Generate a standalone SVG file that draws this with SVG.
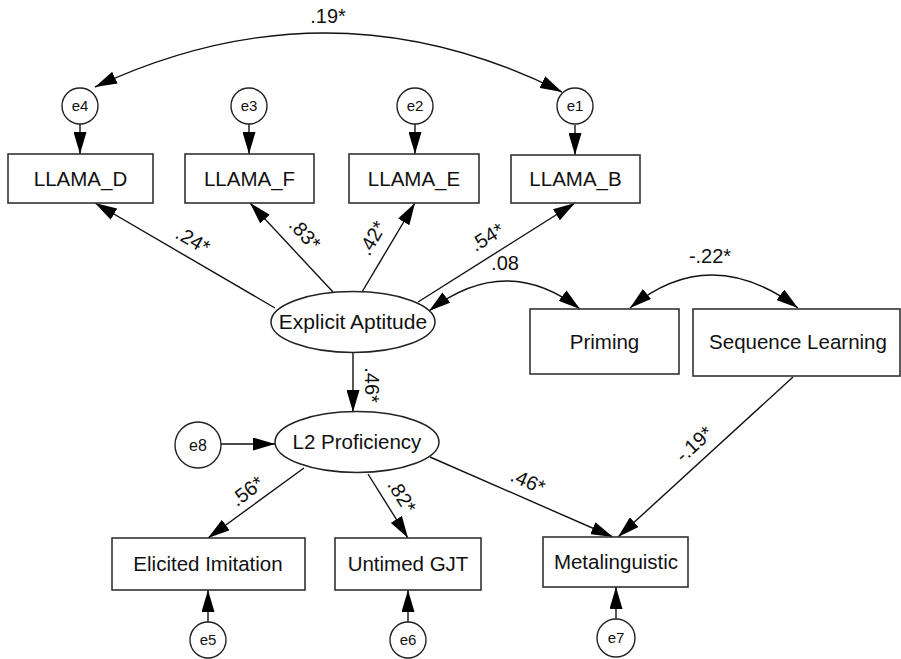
<svg xmlns="http://www.w3.org/2000/svg" width="901" height="659" viewBox="0 0 901 659">
<defs>
<marker id="ah" markerUnits="userSpaceOnUse" markerWidth="22" markerHeight="13" refX="22" refY="6.5" orient="auto-start-reverse">
<path d="M0,0 L22,6.5 L0,13 z" fill="#000"/>
</marker>
</defs>
<style>
.box{fill:#fff;stroke:#333;stroke-width:1.6}
.lat{fill:#fff;stroke:#222;stroke-width:1.5}
.err{fill:#fff;stroke:#222;stroke-width:1.4}
.lbl{font-family:"Liberation Sans",Arial,Helvetica,sans-serif;font-size:20.5px;fill:#111;text-anchor:middle}
.elbl{font-family:"Liberation Sans",Arial,Helvetica,sans-serif;font-size:15px;fill:#111;text-anchor:middle}
.coef{font-family:"Liberation Sans",Arial,Helvetica,sans-serif;font-size:20px;fill:#111;text-anchor:middle}
.ln{fill:none;stroke:#111;stroke-width:1.4;marker-end:url(#ah)}
.cv{fill:none;stroke:#111;stroke-width:1.4;marker-start:url(#ah);marker-end:url(#ah)}
</style>
<rect width="901" height="659" fill="#fff"/>

<g id="connectors">
<path class="cv" d="M95,87 Q331.5,-23.5 562,92"/>
<path class="cv" d="M429,311 Q505.5,252 580,309"/>
<path class="cv" d="M630,308 Q710,242 798,308"/>
<line class="ln" x1="80" y1="124" x2="80" y2="154"/>
<line class="ln" x1="249" y1="124" x2="249" y2="154"/>
<line class="ln" x1="415" y1="124" x2="415" y2="154"/>
<line class="ln" x1="575" y1="125" x2="575" y2="155"/>
<line class="ln" x1="275" y1="308" x2="95" y2="203"/>
<line class="ln" x1="333" y1="292" x2="250" y2="203"/>
<line class="ln" x1="362" y1="292" x2="415" y2="203"/>
<line class="ln" x1="418" y1="302" x2="575" y2="203"/>
<line class="ln" x1="353" y1="353" x2="353" y2="412"/>
<line class="ln" x1="221" y1="444" x2="275" y2="444"/>
<line class="ln" x1="304" y1="468" x2="208" y2="538"/>
<line class="ln" x1="368" y1="474" x2="408" y2="538"/>
<line class="ln" x1="430" y1="457" x2="613" y2="537"/>
<line class="ln" x1="793" y1="377" x2="618" y2="537"/>
<line class="ln" x1="208" y1="622" x2="208" y2="590"/>
<line class="ln" x1="408" y1="622" x2="408" y2="590"/>
<line class="ln" x1="616" y1="619" x2="616" y2="587"/>
</g>

<g id="coefficients">
<text class="coef" x="328" y="23">.19*</text>
<text class="coef" x="505" y="270">.08</text>
<text class="coef" x="710" y="263">-.22*</text>
<text class="coef" x="193" y="240" dy="0.35em" transform="rotate(30 193 240)">.24*</text>
<text class="coef" x="305" y="234" dy="0.35em" transform="rotate(47 305 234)">.83*</text>
<text class="coef" x="372" y="238" dy="0.35em" transform="rotate(-60 372 238)">.42*</text>
<text class="coef" x="487" y="237" dy="0.35em" transform="rotate(-32 487 237)">.54*</text>
<text class="coef" x="372" y="385" dy="0.35em" transform="rotate(90 372 385)">.46*</text>
<text class="coef" x="247" y="491" dy="0.35em" transform="rotate(-37 247 491)">.56*</text>
<text class="coef" x="402" y="496" dy="0.35em" transform="rotate(58 402 496)">.82*</text>
<text class="coef" x="528" y="481" dy="0.35em" transform="rotate(24 528 481)">.46*</text>
<text class="coef" x="694" y="444" dy="0.35em" transform="rotate(-42 694 444)">-.19*</text>
</g>

<g id="e4"><circle class="err" cx="80" cy="106" r="18"/><text class="elbl" x="80" y="111">e4</text></g>
<g id="e3"><circle class="err" cx="249" cy="106" r="18"/><text class="elbl" x="249" y="111">e3</text></g>
<g id="e2"><circle class="err" cx="415" cy="106" r="18"/><text class="elbl" x="415" y="111">e2</text></g>
<g id="e1"><circle class="err" cx="575" cy="106" r="18"/><text class="elbl" x="575" y="111">e1</text></g>

<g id="LLAMA_D"><rect class="box" x="8" y="154" width="145" height="49"/><text class="lbl" x="80.5" y="186">LLAMA_D</text></g>
<g id="LLAMA_F"><rect class="box" x="185" y="154" width="129" height="49"/><text class="lbl" x="249.5" y="186">LLAMA_F</text></g>
<g id="LLAMA_E"><rect class="box" x="349" y="154" width="130" height="49"/><text class="lbl" x="414" y="186">LLAMA_E</text></g>
<g id="LLAMA_B"><rect class="box" x="511" y="155" width="129" height="48"/><text class="lbl" x="575.5" y="186">LLAMA_B</text></g>

<g id="ExplicitAptitude"><ellipse class="lat" cx="353" cy="322" rx="82" ry="30.5"/><text class="lbl" x="353" y="329" style="font-size:21px">Explicit Aptitude</text></g>

<g id="Priming"><rect class="box" x="530" y="309" width="149" height="65"/><text class="lbl" x="604.5" y="349">Priming</text></g>
<g id="SequenceLearning"><rect class="box" x="693" y="309" width="207" height="67"/><text class="lbl" x="798" y="349">Sequence Learning</text></g>

<g id="e8"><circle class="err" cx="198" cy="445" r="23"/><text class="elbl" x="198" y="451" style="font-size:16px">e8</text></g>
<g id="L2Proficiency"><ellipse class="lat" cx="357" cy="442" rx="82" ry="30.5"/><text class="lbl" x="357" y="449">L2 Proficiency</text></g>

<g id="ElicitedImitation"><rect class="box" x="112" y="538" width="193" height="52"/><text class="lbl" x="208" y="571">Elicited Imitation</text></g>
<g id="UntimedGJT"><rect class="box" x="335" y="538" width="146" height="52"/><text class="lbl" x="408" y="571">Untimed GJT</text></g>
<g id="Metalinguistic"><rect class="box" x="543" y="537" width="145" height="50"/><text class="lbl" x="616" y="569">Metalinguistic</text></g>

<g id="e5"><circle class="err" cx="208" cy="640" r="18"/><text class="elbl" x="208" y="645">e5</text></g>
<g id="e6"><circle class="err" cx="408" cy="640" r="18"/><text class="elbl" x="408" y="645">e6</text></g>
<g id="e7"><circle class="err" cx="616" cy="638" r="19"/><text class="elbl" x="616" y="643">e7</text></g>
</svg>
